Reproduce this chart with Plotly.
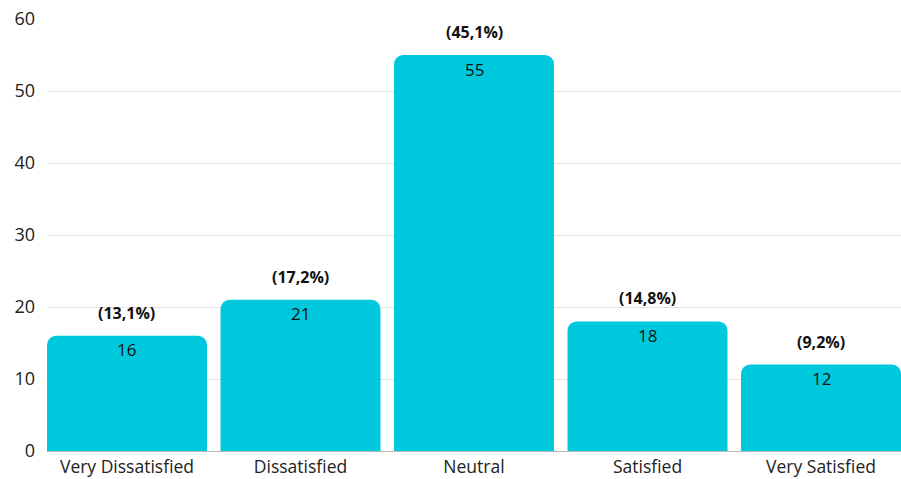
import plotly.graph_objects as go

categories = ["Very Dissatisfied", "Dissatisfied", "Neutral", "Satisfied", "Very Satisfied"]
counts = [16, 21, 55, 18, 12]
shares = ["(13,1%)", "(17,2%)", "(45,1%)", "(14,8%)", "(9,2%)"]
y_ticks = [0, 10, 20, 30, 40, 50, 60]

bar_color = "#00c9dd"
font_family = "Open Sans, Noto Sans, sans-serif"
gap = 0.078

fig = go.Figure()
fig.add_trace(go.Bar(
    x=categories,
    y=counts,
    marker=dict(color=bar_color, line=dict(width=0)),
    hoverinfo="skip",
))

for cat, val, share in zip(categories, counts, shares):
    # count just under the top of the bar
    fig.add_annotation(
        x=cat, y=val, text=str(val),
        showarrow=False, yanchor="middle", yshift=-14,
        font=dict(family=font_family, size=17, color="#111111"),
    )
    # share of all responses above the bar
    fig.add_annotation(
        x=cat, y=val, text=f"<b>{share}</b>",
        showarrow=False, yanchor="middle", yshift=23,
        font=dict(family=font_family, size=16, color="#111111"),
    )

fig.update_layout(
    width=901, height=479,
    margin=dict(l=47, r=0, t=19, b=28),
    paper_bgcolor="white", plot_bgcolor="white",
    bargap=gap,
    barcornerradius=9,
    showlegend=False,
    font=dict(family=font_family, color="#222222"),
)
fig.update_xaxes(
    range=[-0.5 + gap / 2, 4.5 - gap / 2],
    showgrid=False, showline=False, ticks="",
    ticklabelstandoff=3,
    tickfont=dict(family=font_family, size=17.5, color="#222222"),
)
fig.update_yaxes(
    range=[0, 60], tickvals=y_ticks,
    showgrid=True, gridcolor="#e3e3e3", gridwidth=1,
    zeroline=True, zerolinecolor="#b8b8b8", zerolinewidth=1,
    ticks="", ticklabelstandoff=11,
    tickfont=dict(family=font_family, size=18, color="#222222"),
)

fig.write_html("out.html")
